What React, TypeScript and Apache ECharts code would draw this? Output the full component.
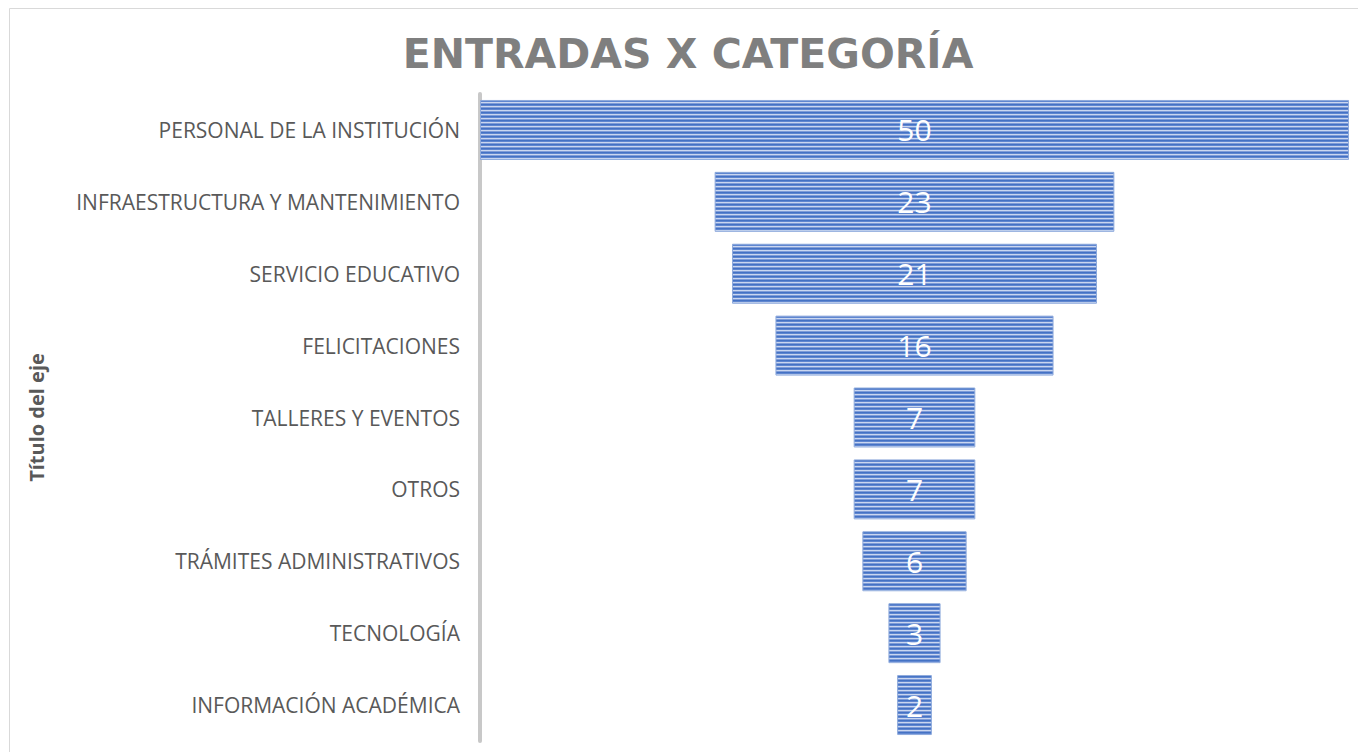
import React, { useEffect, useRef } from "react";
import * as echarts from "echarts";

const categories: string[] = [
  "PERSONAL DE LA INSTITUCIÓN",
  "INFRAESTRUCTURA Y MANTENIMIENTO",
  "SERVICIO EDUCATIVO",
  "FELICITACIONES",
  "TALLERES Y EVENTOS",
  "OTROS",
  "TRÁMITES ADMINISTRATIVOS",
  "TECNOLOGÍA",
  "INFORMACIÓN ACADÉMICA",
];
const values: number[] = [50, 23, 21, 16, 7, 7, 6, 3, 2];
const titleText = "ENTRADAS X CATEGORÍA";
const axisTitle = "Título del eje";

function makeStripePattern(): HTMLCanvasElement {
  const c = document.createElement("canvas");
  c.width = 4;
  c.height = 4;
  const ctx = c.getContext("2d")!;
  const rows = ["#4472c4", "#5f86d0", "#cad7f0", "#7f9cd8"];
  rows.forEach((col, i) => {
    ctx.fillStyle = col;
    ctx.fillRect(0, i, 4, 1);
  });
  return c;
}

export default function App() {
  const ref = useRef<HTMLDivElement>(null);
  useEffect(() => {
    if (!ref.current) return;
    const chart = echarts.init(ref.current, undefined, { renderer: "svg" });
    const maxV = Math.max(...values);
    const pattern = makeStripePattern();
    chart.setOption({
      animation: false,
      backgroundColor: "#ffffff",
      title: {
        text: titleText,
        left: 683,
        top: 28,
        textAlign: "center",
        textStyle: {
          fontFamily: "DejaVu Sans",
          fontWeight: "bold",
          fontSize: 41,
          color: "#7f7f7f",
        },
      },
      graphic: [
        {
          type: "rect",
          silent: true,
          shape: { x: 9.5, y: 8.5, width: 1500, height: 900 },
          style: { fill: "none", stroke: "#d9d9d9", lineWidth: 1 },
        },
      ],
      grid: { left: 480, right: 9, top: 94, bottom: 11, containLabel: false },
      xAxis: { type: "value", min: 0, max: maxV, show: false },
      yAxis: {
        type: "category",
        data: categories,
        inverse: true,
        offset: 2,
        axisLine: { show: true, lineStyle: { color: "#c8c8c8", width: 4 } },
        axisTick: { show: false },
        axisLabel: {
          color: "#595959",
          fontSize: 21,
          fontFamily: "Open Sans",
          margin: 18,
        },
        name: axisTitle,
        nameLocation: "middle",
        nameGap: 432,
        nameRotate: 90,
        nameTextStyle: {
          color: "#595959",
          fontFamily: "Open Sans",
          fontWeight: "bold",
          fontSize: 20,
        },
      },
      series: [
        {
          type: "bar",
          stack: "funnel",
          silent: true,
          barCategoryGap: "16.6%",
          data: values.map((v) => (maxV - v) / 2),
          itemStyle: { color: "transparent" },
        },
        {
          type: "bar",
          stack: "funnel",
          barCategoryGap: "16.6%",
          data: values,
          itemStyle: {
            color: { image: pattern, repeat: "repeat" },
            borderColor: "#8eaadc",
            borderWidth: 1,
          },
          label: {
            show: true,
            position: "inside",
            color: "#ffffff",
            fontFamily: "Open Sans",
            fontSize: 30,
          },
        },
      ],
    });
    return () => chart.dispose();
  }, []);
  return (
    <div
      ref={ref}
      style={{ position: "absolute", left: 0, top: 0, width: 1358, height: 752 }}
    />
  );
}
